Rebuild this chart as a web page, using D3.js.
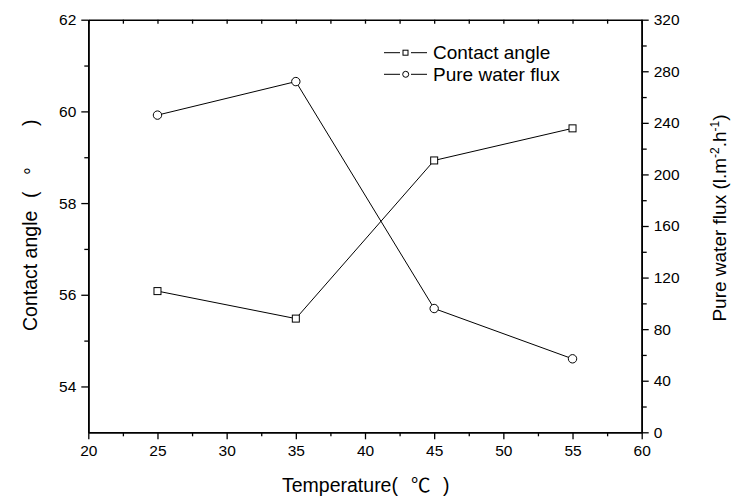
<!DOCTYPE html>
<html><head><meta charset="utf-8">
<script src="https://cdn.jsdelivr.net/npm/d3@7"></script>
<style>
body{margin:0;background:#fff;}
text{font-family:"Liberation Sans",Arial,sans-serif;fill:#000;}
</style></head>
<body><svg id="c" width="731" height="497"></svg>
<script>
const temperatures = [25, 35, 45, 55];
const contactAngle = [56.08, 55.48, 58.93, 59.63];
const pureWaterFlux = [246, 272, 96, 57];
const xTicks = [20, 25, 30, 35, 40, 45, 50, 55, 60];
const leftTicks = [54, 56, 58, 60, 62];
const rightTicks = [0, 40, 80, 120, 160, 200, 240, 280, 320];

const svg = d3.select("#c");
const L = 88.3, R = 641.7, T = 19.7, B = 432.3;
const x = d3.scaleLinear().domain([20, 60]).range([L, R]);
const yL = d3.scaleLinear().domain([53, 62]).range([B, T]);
const yR = d3.scaleLinear().domain([0, 320]).range([B, T]);

function styleAxis(g){
  g.selectAll("path").attr("stroke","#000").attr("stroke-width",1.6);
  g.selectAll("line").attr("stroke","#000").attr("stroke-width",1.3);
  g.selectAll("text").attr("font-size","15.5px").attr("font-family","Liberation Sans, Arial, sans-serif").attr("fill","#000");
}
const minorX = d3.range(22.5, 60, 5);
// bottom axis
svg.append("g").attr("transform",`translate(0,${B})`)
  .call(d3.axisBottom(x).tickValues(minorX).tickSize(4).tickFormat("").tickSizeOuter(0)).call(styleAxis);
svg.append("g").attr("transform",`translate(0,${B})`)
  .call(d3.axisBottom(x).tickValues(xTicks).tickSize(7).tickPadding(6).tickSizeOuter(0)).call(styleAxis);
// top axis (inward ticks)
svg.append("g").attr("transform",`translate(0,${T})`)
  .call(d3.axisBottom(x).tickValues(xTicks.concat(minorX)).tickSize(4).tickFormat("").tickSizeOuter(0)).call(styleAxis);
// left axis
svg.append("g").attr("transform",`translate(${L},0)`)
  .call(d3.axisLeft(yL).tickValues([55,57,59,61]).tickSize(4).tickFormat("").tickSizeOuter(0)).call(styleAxis);
svg.append("g").attr("transform",`translate(${L},0)`)
  .call(d3.axisLeft(yL).tickValues(leftTicks).tickSize(7).tickPadding(5).tickSizeOuter(0)).call(styleAxis);
// right axis
svg.append("g").attr("transform",`translate(${R},0)`)
  .call(d3.axisRight(yR).tickValues(d3.range(20,320,40)).tickSize(5).tickFormat("").tickSizeOuter(0)).call(styleAxis);
svg.append("g").attr("transform",`translate(${R},0)`)
  .call(d3.axisRight(yR).tickValues(rightTicks).tickSize(7).tickPadding(5).tickSizeOuter(0)).call(styleAxis);

// data lines
const caData = temperatures.map((t,i)=>({t, v:contactAngle[i]}));
const fxData = temperatures.map((t,i)=>({t, v:pureWaterFlux[i]}));
svg.append("path").datum(caData).attr("fill","none").attr("stroke","#000").attr("stroke-width",1)
  .attr("d", d3.line().x(d=>x(d.t)).y(d=>yL(d.v)));
svg.append("path").datum(fxData).attr("fill","none").attr("stroke","#000").attr("stroke-width",1)
  .attr("d", d3.line().x(d=>x(d.t)).y(d=>yR(d.v)));
svg.selectAll(".sq").data(caData).enter().append("rect")
  .attr("x",d=>x(d.t)-3.5).attr("y",d=>yL(d.v)-3.5).attr("width",7).attr("height",7)
  .attr("fill","#fff").attr("stroke","#000").attr("stroke-width",1);
svg.selectAll(".ci").data(fxData).enter().append("circle")
  .attr("cx",d=>x(d.t)).attr("cy",d=>yR(d.v)).attr("r",4.2)
  .attr("fill","#fff").attr("stroke","#000").attr("stroke-width",1);

// legend
const lg = svg.append("g");
[[52.7,"Contact angle","sq"],[74.3,"Pure water flux","ci"]].forEach(([yy,label,kind])=>{
  lg.append("line").attr("x1",384).attr("x2",400).attr("y1",yy).attr("y2",yy).attr("stroke","#000");
  lg.append("line").attr("x1",411).attr("x2",427).attr("y1",yy).attr("y2",yy).attr("stroke","#000");
  if(kind==="sq") lg.append("rect").attr("x",403).attr("y",yy-2.5).attr("width",5).attr("height",5).attr("fill","#fff").attr("stroke","#000");
  else lg.append("circle").attr("cx",405.7).attr("cy",yy).attr("r",3).attr("fill","#fff").attr("stroke","#000");
  lg.append("text").attr("x",433).attr("y",yy+6.5).attr("font-size","19px").text(label);
});

// axis titles
const xt = svg.append("text").attr("y",492).attr("font-size","19.5px");
xt.append("tspan").attr("x",282).text("Temperature(");
xt.append("tspan").attr("x",411).attr("font-family","Noto Sans CJK SC").text("℃");
xt.append("tspan").attr("x",443).text(")");

const lt = svg.append("text").attr("transform","translate(37,0) rotate(-90)").attr("font-size","19.5px");
lt.append("tspan").attr("x",-331).text("Contact angle");
lt.append("tspan").attr("x",-198).text("(");
lt.append("tspan").attr("x",-175).attr("dy",2).text("°");
lt.append("tspan").attr("x",-126).attr("dy",-2).text(")");

const rt = svg.append("text").attr("transform","translate(726,218) rotate(-90)").attr("text-anchor","middle").attr("font-size","19px");
rt.append("tspan").text("Pure water flux (l.m");
rt.append("tspan").attr("dy",-7).attr("font-size","12px").text("-2");
rt.append("tspan").attr("dy",7).text(".h");
rt.append("tspan").attr("dy",-7).attr("font-size","12px").text("-1");
rt.append("tspan").attr("dy",7).text(")");
</script></body></html>
